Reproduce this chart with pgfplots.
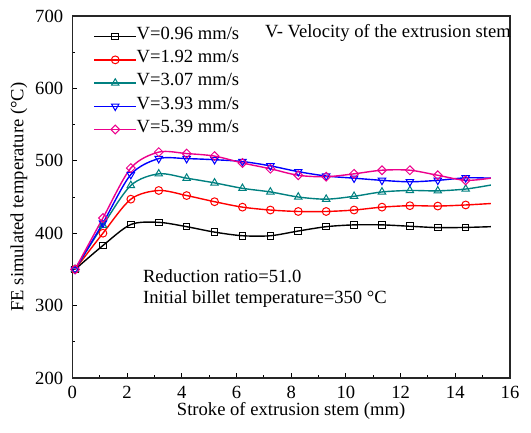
\documentclass[border=0pt]{standalone}
\usepackage{pgfplots}
\pgfplotsset{compat=1.18}
\usepackage{fontspec}
\setmainfont{Liberation Serif}
\definecolor{cteal}{RGB}{0,128,128}
\pgfplotstableread{
x blk red teal blue mag
0.10 350 350 350 350 350
1.12 383 400 411 414 421
2.14 412 447 466 481 490
3.16 415 459 482 503 512
4.18 409 452 476 503 510
5.20 401.5 443.5 469.5 501.5 506.5
6.22 396.5 436 462 499 497
7.24 396.5 432 457 493 489
8.26 403 430 450 485 480
9.28 409 430 447 479 478
10.30 411.5 432 451 476 482
11.32 411.5 436 457 473 487
12.34 409.6 438 459 471 487
13.36 407.7 437.5 458.5 473 480
14.38 408 439 461 476.5 473
15.30 409 441 466.5 476 476
}\data
\begin{document}
\fontsize{18.6}{22}\selectfont
\begin{tikzpicture}
\begin{axis}[
  name=ax,
  scale only axis,
  width=437.7pt, height=362pt,
  xmin=0, xmax=16, ymin=200, ymax=700,
  xtick={0,2,...,16}, ytick={200,300,...,700},
  minor x tick num=1, minor y tick num=1,
  tick pos=left, tick align=inside,
  major tick length=5pt, minor tick length=3pt,
  every tick/.style={black, line width=1pt},
  axis line style={line width=1.2pt, black!85},
  /pgf/number format/assume math mode=true,
  tick label style={font=\fontsize{18.6}{22}\selectfont},
  xticklabel style={yshift=-1.5pt},
  yticklabel style={xshift=-2.8pt},
  label style={font=\fontsize{18.6}{22}\selectfont},
  xlabel={Stroke of extrusion stem (mm)},
  ylabel={FE simulated temperature (°C)},
  every axis x label/.style={at={(rel axis cs:0.5,-0.0905)}, anchor=center},
  every axis y label/.style={at={(rel axis cs:-0.1218,0.5)}, anchor=center, rotate=90},
  clip=false,
  legend cell align=left,
  legend style={at={(rel axis cs:0.049,0.975)}, anchor=north west, draw=none, fill=none,
    inner sep=0pt, outer sep=0pt, row sep=0pt, column sep=0pt,
    font=\fontsize{18.6}{22}\selectfont,
    nodes={inner xsep=0pt, inner ysep=0pt, text height=14.5pt, text depth=8.7pt}},
  legend image code/.code={\draw[mark indices={2}, line width=1.4pt] plot coordinates {(0pt,0pt) (20.8pt,0pt) (41.6pt,0pt)};},
  every axis plot/.append style={line width=1.4pt, smooth},
]
\addplot[black, mark=square, mark size=3.3pt, mark options={fill=white, line width=1pt}, mark indices={1,...,15}] table[x=x,y=blk] {\data};
\addlegendentry{V=0.96 mm/s}
\addplot[red, mark=o, mark size=3.9pt, mark options={fill=white, line width=1pt}, mark indices={1,...,15}] table[x=x,y=red] {\data};
\addlegendentry{V=1.92 mm/s}
\addplot[cteal, mark=triangle, mark size=4.3pt, mark options={fill=white, line width=1pt}, mark indices={1,...,15}] table[x=x,y=teal] {\data};
\addlegendentry{V=3.07 mm/s}
\addplot[blue, mark=triangle, mark size=4.3pt, mark options={fill=white, line width=1pt, rotate=180}, mark indices={1,...,15}] table[x=x,y=blue] {\data};
\addlegendentry{V=3.93 mm/s}
\addplot[magenta, mark=square, mark size=3.1pt, mark options={fill=white, line width=1pt, rotate=45}, mark indices={1,...,15}] table[x=x,y=mag] {\data};
\addlegendentry{V=5.39 mm/s}
\node[anchor=west, inner sep=0pt] at (axis cs:7.04,676.5) {V- Velocity of the extrusion stem};
\node[anchor=west, inner sep=0pt] at (axis cs:2.58,341) {Reduction ratio=51.0};
\node[anchor=west, inner sep=0pt] at (axis cs:2.58,309) {Initial billet temperature=350 °C};
\end{axis}
\path (ax.south west) +(-72.3pt,-54pt) (ax.north east) +(21pt,16pt);
\end{tikzpicture}
\end{document}
